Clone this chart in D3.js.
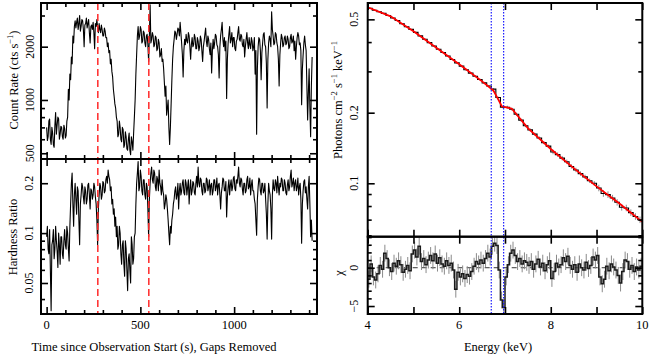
<!DOCTYPE html>
<html>
<head>
<meta charset="utf-8">
<script src="https://cdn.jsdelivr.net/npm/d3@7"></script>
<style>
  body { margin: 0; background: #fff; }
  text { font-family: "Liberation Serif", "Times New Roman", serif; fill: #000; }
</style>
</head>
<body>
<svg id="chart" width="657" height="361"></svg>
<script>
'use strict'
// light curve, 4 s bins starting at t = 0
const binWidth = 4;
const countRate = [
  700, 590, 620, 760, 780, 600, 560, 700, 650, 560, 540, 720, 850, 640, 720, 800, 780, 600, 640, 710,
  700, 620, 600, 720, 690, 610, 630, 760, 800, 1150, 1000, 1400, 1300, 1750, 1600, 2300, 2100, 2600, 2800, 2550,
  2750, 2900, 2500, 2700, 3000, 2450, 2600, 2850, 2800, 2500, 2000, 2650, 2700, 2900, 2550, 2700, 2850, 2400, 2100, 2600,
  2650, 2500, 2750, 2400, 1950, 2700, 2600, 2850, 2550, 2400, 2700, 2500, 2400, 2650, 2500, 2300, 2300, 2550, 2450, 2250,
  2250, 2000, 2100, 1850, 1900, 1600, 1700, 1450, 1350, 1150, 1050, 950, 900, 800, 760, 620, 640, 760, 700, 600,
  580, 700, 680, 540, 560, 660, 620, 530, 520, 600, 650, 520, 490, 620, 580, 520, 650, 800, 1000, 1400,
  1800, 2300, 2600, 2200, 2300, 2600, 2500, 2100, 2150, 2450, 2400, 2100, 2000, 2300, 2350, 2050, 1650, 2300, 3450, 2100,
  2200, 2400, 2300, 2000, 2050, 2300, 2250, 1900, 1950, 2200, 2100, 1750, 1800, 1950, 1650, 1700, 1500, 1250, 1050, 1200,
  820, 900, 1000, 700, 560, 700, 950, 1300, 1700, 2000, 2200, 2450, 2400, 2200, 2350, 2550, 2500, 2300, 2750, 2400,
  2100, 1800, 1350, 1900, 2200, 2050, 2350, 2150, 2100, 2400, 2300, 2000, 1700, 2050, 2250, 2000, 2050, 2350, 2250, 1950,
  1950, 2250, 2150, 1900, 2000, 2300, 2200, 1900, 1650, 2000, 2150, 2350, 2550, 2150, 2000, 2300, 2200, 1950, 1800, 2100,
  1420, 1900, 2200, 1950, 2100, 2350, 2300, 2050, 2000, 1800, 1330, 2000, 2300, 2500, 2750, 2200, 2000, 2250, 1900, 2150,
  1020, 1700, 2100, 2350, 2600, 2100, 2200, 2400, 2000, 2250, 2250, 1950, 1900, 2150, 2200, 2400, 2600, 2200, 2150, 2350,
  2300, 2050, 2000, 2200, 1750, 2000, 2200, 2400, 2100, 1950, 2250, 2050, 1950, 2250, 2150, 1900, 2000, 2250, 1400, 1900,
  640, 1500, 2000, 2250, 2200, 1900, 1300, 1850, 2100, 2350, 2400, 2050, 2000, 1600, 900, 1700, 2100, 2300, 2200, 2000,
  3150, 2500, 2300, 2050, 2100, 2400, 2350, 2100, 2000, 1700, 1200, 1800, 2100, 2350, 2250, 2000, 2050, 2250, 2300, 2050,
  2100, 2300, 2200, 1950, 2000, 2250, 2350, 2100, 2150, 2300, 1900, 2150, 1700, 2000, 2250, 2400, 2300, 2050, 2100, 1900,
  940, 1500, 1800, 2100, 2300, 2050, 1900, 1200, 770, 1100, 1500, 900, 620, 1200, 1750
];
const hardness = [
  0.095, 0.110, 0.080, 0.075, 0.105, 0.060, 0.034, 0.085, 0.090, 0.105, 0.070, 0.080, 0.110, 0.090, 0.078, 0.062, 0.100, 0.085, 0.065, 0.095,
  0.095, 0.075, 0.070, 0.090, 0.105, 0.085, 0.080, 0.110, 0.100, 0.080, 0.068, 0.110, 0.150, 0.200, 0.230, 0.150, 0.110, 0.170, 0.200, 0.160,
  0.130, 0.190, 0.180, 0.120, 0.085, 0.150, 0.170, 0.200, 0.190, 0.165, 0.150, 0.190, 0.180, 0.150, 0.160, 0.195, 0.200, 0.170, 0.140, 0.185,
  0.180, 0.160, 0.170, 0.200, 0.190, 0.165, 0.150, 0.120, 0.085, 0.140, 0.170, 0.200, 0.190, 0.160, 0.170, 0.205, 0.200, 0.175, 0.180, 0.210,
  0.220, 0.200, 0.240, 0.220, 0.210, 0.180, 0.190, 0.150, 0.160, 0.130, 0.140, 0.110, 0.125, 0.095, 0.110, 0.080, 0.085, 0.110, 0.100, 0.075,
  0.065, 0.085, 0.090, 0.065, 0.055, 0.090, 0.080, 0.060, 0.045, 0.070, 0.075, 0.060, 0.050, 0.095, 0.085, 0.065, 0.070, 0.095, 0.100, 0.150,
  0.200, 0.230, 0.270, 0.180, 0.190, 0.240, 0.220, 0.180, 0.170, 0.210, 0.210, 0.170, 0.160, 0.200, 0.190, 0.140, 0.095, 0.160, 0.200, 0.230,
  0.250, 0.210, 0.200, 0.240, 0.230, 0.190, 0.180, 0.220, 0.210, 0.180, 0.240, 0.200, 0.190, 0.170, 0.210, 0.180, 0.170, 0.140, 0.150, 0.170,
  0.160, 0.140, 0.120, 0.100, 0.085, 0.110, 0.100, 0.120, 0.130, 0.150, 0.160, 0.180, 0.190, 0.160, 0.170, 0.200, 0.140, 0.180, 0.200, 0.170,
  0.180, 0.200, 0.210, 0.175, 0.170, 0.210, 0.200, 0.170, 0.190, 0.210, 0.150, 0.185, 0.210, 0.170, 0.180, 0.205, 0.200, 0.175, 0.170, 0.200,
  0.220, 0.190, 0.250, 0.200, 0.190, 0.215, 0.210, 0.180, 0.170, 0.200, 0.200, 0.175, 0.180, 0.215, 0.210, 0.180, 0.190, 0.210, 0.170, 0.195,
  0.200, 0.170, 0.180, 0.210, 0.210, 0.180, 0.190, 0.215, 0.170, 0.195, 0.200, 0.170, 0.140, 0.175, 0.190, 0.215, 0.210, 0.180, 0.180, 0.205,
  0.125, 0.165, 0.190, 0.210, 0.170, 0.195, 0.210, 0.180, 0.190, 0.215, 0.220, 0.185, 0.180, 0.210, 0.200, 0.220, 0.250, 0.200, 0.190, 0.215,
  0.210, 0.185, 0.170, 0.200, 0.200, 0.175, 0.180, 0.210, 0.220, 0.185, 0.190, 0.215, 0.170, 0.195, 0.210, 0.180, 0.180, 0.160, 0.150, 0.120,
  0.097, 0.160, 0.190, 0.215, 0.210, 0.180, 0.170, 0.200, 0.200, 0.175, 0.180, 0.200, 0.160, 0.130, 0.092, 0.150, 0.200, 0.180, 0.170, 0.140,
  0.092, 0.170, 0.210, 0.185, 0.180, 0.210, 0.200, 0.175, 0.220, 0.190, 0.170, 0.200, 0.190, 0.215, 0.210, 0.180, 0.180, 0.210, 0.200, 0.175,
  0.170, 0.195, 0.210, 0.180, 0.190, 0.220, 0.240, 0.190, 0.200, 0.215, 0.180, 0.200, 0.210, 0.180, 0.190, 0.215, 0.170, 0.190, 0.200, 0.160,
  0.087, 0.150, 0.180, 0.205, 0.210, 0.175, 0.190, 0.160, 0.140, 0.190, 0.220, 0.150, 0.095, 0.120, 0.090
];
const markTimes = [273, 545];

// spectrum, 0.1 keV bins from 4 keV
const specStart = 4, specBin = 0.1;
const specFlux = [
  0.557, 0.547, 0.539, 0.530, 0.519, 0.507, 0.494, 0.479, 0.465, 0.453,
  0.440, 0.425, 0.411, 0.398, 0.385, 0.373, 0.361, 0.349, 0.337, 0.326,
  0.316, 0.305, 0.295, 0.286, 0.277, 0.268, 0.260, 0.252, 0.232, 0.211,
  0.211, 0.207, 0.197, 0.186, 0.176, 0.169, 0.162, 0.156, 0.149, 0.144,
  0.136, 0.1325, 0.128, 0.1235, 0.118, 0.114, 0.110, 0.1065, 0.1025, 0.100,
  0.0955, 0.0905, 0.0895, 0.0865, 0.083, 0.079, 0.0785, 0.075, 0.0722, 0.0699
];
// relative flux error for each 1 keV stretch
const specRelErr = [0.005, 0.007, 0.010, 0.015, 0.022, 0.032];
const modelE = [4.0, 4.5, 5.0, 5.5, 6.0, 6.5, 6.7, 6.75, 6.82, 6.93, 7.15, 7.5, 8.0, 8.5, 9.0, 9.5, 10.0];
const modelFlux = [0.563, 0.515, 0.445, 0.378, 0.322, 0.272, 0.253, 0.248, 0.234, 0.213, 0.208, 0.172, 0.140, 0.116, 0.097, 0.082, 0.0685];

// residuals, 0.05 keV bins from 4 keV
const chiBin = 0.05;
const chi = [
  -1.5, 0.5, -1.2, -1.6, -0.8, 0.3, -0.2, 1.9, 1.2, 0.0,
  -0.5, 0.6, 0.2, 0.9, 0.4, -0.6, -0.2, 0.3, -0.4, 1.8,
  2.3, 1.4, 2.8, 0.8, 1.2, 0.4, 1.0, 1.6, 0.9, 1.8,
  0.6, 1.3, 0.5, 0.2, 0.9, 0.3, 0.6, -0.3, -2.8, -0.6,
  -1.2, -0.8, -1.4, -0.9, -1.1, -0.5, 0.2, 0.8, 0.5, 1.0,
  0.6, 1.2, 1.9, 1.4, 2.8, 3.2, 2.9, -0.3, -4.2, -5.2,
  -1.2, 0.4, 1.9, 2.3, 1.6, 0.8, 1.2, 0.5, 0.9, 0.7,
  0.3, 0.8, -0.2, 0.5, 1.1, 0.1, 0.6, -0.4, 0.4, 0.9,
  -1.4, -0.5, 0.6, 0.1, 0.4, 1.3, 0.8, 1.5, 0.3, -0.2,
  0.4, -0.6, 0.5, 0.0, -0.3, 0.7, -0.1, 0.3, 1.4, 1.0,
  1.6, -1.2, -2.1, -1.5, 0.2, -0.4, 0.5, 0.1, -0.3, -1.0,
  -2.0, -0.5, 1.0, 0.8, -0.2, 0.3, -0.5, 0.1, -0.3, 0.2
];
const lineE = [6.7, 6.97];

const svg = d3.select("#chart");

// left column
const xT = d3.scaleLinear().domain([-30, 1442]).range([41, 317]);
const yRate = d3.scaleLog().domain([464, 3530]).range([159, 3]);
const yHR = d3.scaleLog().domain([0.0325, 0.28]).range([314, 159]);
// right column
const xE = d3.scaleLinear().domain([4, 10]).range([367.7, 642.3]);
const ySpec = d3.scaleLog().domain([0.0592, 0.587]).range([236.7, 3]);
const yChi = d3.scaleLinear().domain([-6.04, 4.05]).range([314, 236.7]);

const defs = svg.append("defs");
function clip(id, x, y) {
  defs.append("clipPath").attr("id", id).append("rect")
    .attr("x", x.range()[0]).attr("y", y.range()[1])
    .attr("width", x.range()[1] - x.range()[0])
    .attr("height", y.range()[0] - y.range()[1]);
  return "url(#" + id + ")";
}

// inward ticks on all four sides of a panel
function ticks(x, y, xMajor, xMinor, yMajor, yMinor) {
  const g = svg.append("g");
  const x0 = x.range()[0], x1 = x.range()[1];
  const yb = y.range()[0], yt = y.range()[1];
  const sets = [
    [d3.axisBottom(x), yb, xMajor, -7], [d3.axisBottom(x), yb, xMinor, -4],
    [d3.axisTop(x), yt, xMajor, -7], [d3.axisTop(x), yt, xMinor, -4]
  ];
  sets.forEach(s => {
    g.append("g").attr("transform", "translate(0," + s[1] + ")")
      .call(s[0].tickValues(s[2]).tickSize(s[3]).tickFormat(""));
  });
  const ysets = [
    [d3.axisLeft(y), x0, yMajor, -7], [d3.axisLeft(y), x0, yMinor, -4],
    [d3.axisRight(y), x1, yMajor, -7], [d3.axisRight(y), x1, yMinor, -4]
  ];
  ysets.forEach(s => {
    g.append("g").attr("transform", "translate(" + s[1] + ",0)")
      .call(s[0].tickValues(s[2]).tickSize(s[3]).tickFormat(""));
  });
  g.selectAll(".domain").remove();
  g.selectAll("line").attr("stroke", "#000").attr("stroke-width", 1.6);
  svg.append("rect").attr("x", x0).attr("y", yt)
    .attr("width", x1 - x0).attr("height", yb - yt)
    .attr("fill", "none").attr("stroke", "#000").attr("stroke-width", 2);
}

function yLabels(y, xPos, values, fmt) {
  svg.append("g").selectAll("text").data(values).enter().append("text")
    .attr("transform", d => "translate(" + xPos + "," + y(d) + ") rotate(-90)")
    .attr("text-anchor", "middle").attr("dy", "0.35em")
    .attr("font-size", "12px")
    .text(fmt);
}

function xLabels(x, yPos, values) {
  svg.append("g").selectAll("text").data(values).enter().append("text")
    .attr("x", d => x(d)).attr("y", yPos)
    .attr("text-anchor", "middle").attr("font-size", "12.5px")
    .text(d => d);
}

// parts: [text, isSuperscript]
function title(x, y, rot, parts) {
  const t = svg.append("text").attr("text-anchor", "middle").attr("font-size", "12.5px")
    .attr("transform", "translate(" + x + "," + y + ")" + (rot ? " rotate(-90)" : ""))
    .attr("dy", rot ? "0.35em" : 0);
  parts.forEach((p, i) => {
    const s = t.append("tspan").text(p[0]);
    if (p[1]) s.attr("font-size", "8.5px").attr("dy", "-0.6em");
    else if (i > 0 && parts[i - 1][1]) s.attr("dy", "0.4em");
  });
}

// ---------- light curve ----------
const times = countRate.map((d, i) => i * binWidth);
const rateLine = d3.line().x((d, i) => xT(times[i])).y(d => yRate(d));
svg.append("path").datum(countRate)
  .attr("clip-path", clip("cRate", xT, yRate))
  .attr("d", rateLine).attr("fill", "none")
  .attr("stroke", "#000").attr("stroke-width", 1.1).attr("stroke-linejoin", "round");

const hrLine = d3.line().x((d, i) => xT(times[i])).y(d => yHR(d));
svg.append("path").datum(hardness)
  .attr("clip-path", clip("cHR", xT, yHR))
  .attr("d", hrLine).attr("fill", "none")
  .attr("stroke", "#000").attr("stroke-width", 1.1).attr("stroke-linejoin", "round");

svg.append("g").selectAll("line").data(markTimes).enter().append("line")
  .attr("x1", d => xT(d)).attr("x2", d => xT(d))
  .attr("y1", yRate.range()[1]).attr("y2", yHR.range()[0])
  .attr("stroke", "#ff2a2a").attr("stroke-width", 1.5).attr("stroke-dasharray", "7,4");

const tMajor = [0, 500, 1000];
const tMinor = d3.range(100, 1500, 100).filter(d => d % 500);
ticks(xT, yRate, tMajor, tMinor, [500, 1000, 2000], [600, 700, 800, 900, 3000]);
ticks(xT, yHR, tMajor, tMinor, [0.05, 0.1, 0.2], [0.04, 0.06, 0.07, 0.08, 0.09]);
yLabels(yRate, 30, [500, 1000, 2000], d => d);
yLabels(yHR, 29, [0.05, 0.1, 0.2], d => d);
xLabels(xT, 329, tMajor);
title(13.5, 80, true, [["Count Rate (cts s"], ["\u22121", 1], [")"]]);
title(12.5, 237, true, [["Hardness Ratio"]]);
title(154, 351, false, [["Time since Observation Start (s), Gaps Removed"]]);

// ---------- spectrum ----------
const specPts = [];
specFlux.forEach((v, i) => {
  specPts.push([specStart + i * specBin, v], [specStart + (i + 1) * specBin, v]);
});
const gSpec = svg.append("g").attr("clip-path", clip("cSpec", xE, ySpec));
gSpec.selectAll("line").data(specFlux).enter().append("line")
  .attr("x1", (d, i) => xE(specStart + (i + 0.5) * specBin))
  .attr("x2", (d, i) => xE(specStart + (i + 0.5) * specBin))
  .attr("y1", (d, i) => ySpec(d * (1 + specRelErr[Math.floor(i * specBin)])))
  .attr("y2", (d, i) => ySpec(d * (1 - specRelErr[Math.floor(i * specBin)])))
  .attr("stroke", "#8c8c8c").attr("stroke-width", 1);
gSpec.append("path").datum(specPts)
  .attr("d", d3.line().x(d => xE(d[0])).y(d => ySpec(d[1])))
  .attr("fill", "none").attr("stroke", "#000").attr("stroke-width", 1.1);
gSpec.append("path").datum(modelE.map((e, i) => [e, modelFlux[i]]))
  .attr("d", d3.line().x(d => xE(d[0])).y(d => ySpec(d[1])))
  .attr("fill", "none").attr("stroke", "#f00").attr("stroke-width", 1.8);

// ---------- residuals ----------
const gChi = svg.append("g").attr("clip-path", clip("cChi", xE, yChi));
gChi.append("line").attr("x1", xE(4)).attr("x2", xE(10))
  .attr("y1", yChi(0)).attr("y2", yChi(0))
  .attr("stroke", "#000").attr("stroke-width", 0.8).attr("stroke-dasharray", "5,4");
gChi.selectAll(".err").data(chi).enter().append("line")
  .attr("x1", (d, i) => xE(specStart + (i + 0.5) * chiBin))
  .attr("x2", (d, i) => xE(specStart + (i + 0.5) * chiBin))
  .attr("y1", d => yChi(d + 1.1)).attr("y2", d => yChi(d - 1.1))
  .attr("stroke", "#8a8a8a").attr("stroke-width", 1);
const chiPts = [];
chi.forEach((v, i) => {
  chiPts.push([specStart + i * chiBin, v], [specStart + (i + 1) * chiBin, v]);
});
gChi.append("path").datum(chiPts)
  .attr("d", d3.line().x(d => xE(d[0])).y(d => yChi(d[1])))
  .attr("fill", "none").attr("stroke", "#1a1a1a").attr("stroke-width", 1.5);

svg.append("g").selectAll("line").data(lineE).enter().append("line")
  .attr("x1", d => xE(d)).attr("x2", d => xE(d))
  .attr("y1", ySpec.range()[1]).attr("y2", yChi.range()[0])
  .attr("stroke", "#1a1aff").attr("stroke-width", 1.2).attr("stroke-dasharray", "1.5,1.5");

const eTicks = [4, 5, 6, 7, 8, 9, 10];
ticks(xE, ySpec, eTicks, [], [0.1, 0.2, 0.5], [0.06, 0.07, 0.08, 0.09, 0.3, 0.4]);
ticks(xE, yChi, eTicks, [], [-5, 0], [-6, -4, -3, -2, -1, 1, 2, 3, 4]);
yLabels(ySpec, 353.5, [0.1, 0.2, 0.5], d => d);
yLabels(yChi, 353.5, [-5, 0], d => d < 0 ? "\u2212" + (-d) : d);
xLabels(xE, 329, [4, 6, 8, 10]);
title(337.5, 100, true, [["Photons cm"], ["\u22122", 1], [" s"], ["\u22121", 1], [" keV"], ["\u22121", 1]]);
title(339, 273, true, [["\u03c7"]]);
title(498, 351, false, [["Energy (keV)"]]);
</script>
</body>
</html>
